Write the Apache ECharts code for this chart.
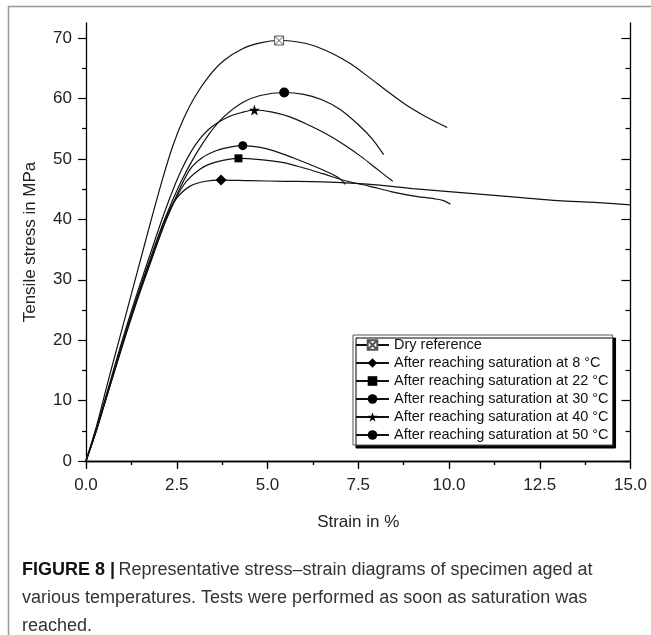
<!DOCTYPE html>
<html><head><meta charset="utf-8">
<script src="https://cdn.jsdelivr.net/npm/echarts@6/dist/echarts.min.js"></script>
<style>html,body{margin:0;padding:0;background:#fff}#c{width:651px;height:635px}</style>
</head><body><div id="c"></div>
<script>
const seriesNames = ['Dry reference', 'After reaching saturation at 8 °C', 'After reaching saturation at 22 °C',
  'After reaching saturation at 30 °C', 'After reaching saturation at 40 °C', 'After reaching saturation at 50 °C'];
const dryRef = [[0,0],[0.3,6],[0.6,13],[1.0,22],[1.4,31],[1.8,40],[2.1,46.5],[2.4,52.3],[2.7,56.8],[3.0,60.3],[3.4,63.8],[3.8,66.3],[4.3,68.2],[4.8,69.2],[5.32,69.6],[5.8,69.4],[6.3,68.7],[6.8,67.4],[7.3,65.7],[7.8,63.5],[8.3,61.2],[8.8,59],[9.3,57.2],[9.95,55.2]];
const sat8 = [[0,0],[0.3,5.3],[0.6,11.3],[1.0,19.2],[1.4,26.8],[1.8,33.8],[2.2,40.3],[2.5,43.5],[2.87,45.5],[3.3,46.3],[3.72,46.5],[4.5,46.4],[5.5,46.3],[6.5,46.2],[7.3,46],[8.0,45.7],[9.0,45.1],[10.0,44.6],[11,44.1],[12,43.6],[13,43.1],[14,42.8],[15,42.4]];
const sat22 = [[0,0],[0.3,5.3],[0.6,11.2],[1.0,19],[1.4,26.4],[1.8,33.2],[2.2,39.8],[2.68,45.6],[3.14,48.3],[3.6,49.5],[4.2,50.1],[4.8,49.9],[5.44,49.4],[6.0,48.5],[6.5,47.6],[7.2,46.3],[7.8,45.5],[8.4,44.6],[9.0,43.9],[9.6,43.4],[9.85,43.1],[10.04,42.5]];
const sat30 = [[0,0],[0.3,5.4],[0.6,11.4],[1.0,19.3],[1.4,26.7],[1.8,33.4],[2.2,39.8],[2.5,44],[2.87,48.3],[3.2,50.2],[3.6,51.4],[4.0,52],[4.32,52.2],[4.8,51.9],[5.2,51.3],[5.7,50.2],[6.2,49],[6.7,47.7],[7.0,46.7],[7.14,45.8]];
const sat40 = [[0,0],[0.3,5.6],[0.6,11.8],[1.0,20],[1.4,27.6],[1.8,34.8],[2.2,41.8],[2.6,47.8],[3.0,52.2],[3.4,55],[3.9,56.9],[4.3,57.7],[4.64,58.1],[5.1,57.8],[5.6,57],[6.1,55.7],[6.6,54.2],[7.1,52.4],[7.6,50.3],[8.0,48.4],[8.45,46.3]];
const sat50 = [[0,0],[0.3,5.5],[0.6,11.5],[1.0,19.5],[1.4,27],[1.8,34],[2.2,40.5],[2.6,46],[3.0,50.5],[3.4,54.2],[3.8,57],[4.3,59.3],[4.8,60.5],[5.46,61],[6.0,60.7],[6.5,59.8],[7.0,58.2],[7.5,55.7],[7.9,53.2],[8.2,50.7]];
const seriesData = [dryRef, sat8, sat22, sat30, sat40, sat50];
const xTicks = [0, 2.5, 5, 7.5, 10, 12.5, 15];
const yMajorTicks = [0, 10, 20, 30, 40, 50, 60, 70];
const yMinorTicks = [5, 15, 25, 35, 45, 55, 65];

const boxX = 'path://M0 0H10V10H0Z M0 0L10 10 M10 0L0 10';
const star = 'path://M50 0L61.2 34.5L97.6 34.5L68.2 55.9L79.4 90.5L50 69.1L20.6 90.5L31.8 55.9L2.4 34.5L38.8 34.5Z';
const symbols = [boxX, 'diamond', 'rect', 'circle', star, 'circle'];
const sizes = [9, 11, 8, 9, 11, 10];

const chart = echarts.init(document.getElementById('c'));
const FONT = 'Liberation Sans, Arial, sans-serif';

const series = seriesData.map((d, i) => {
  let peak = 0;
  d.forEach((p, k) => { if (p[1] > d[peak][1]) peak = k; });
  return {
    name: seriesNames[i], type: 'line', smooth: 0.3, xAxisIndex: 0, yAxisIndex: 0,
    symbol: symbols[i], symbolSize: sizes[i], showSymbol: true,
    lineStyle: { color: '#111', width: 1.2 },
    itemStyle: i === 0 ? { color: '#fff', borderColor: '#555', borderWidth: 1 } : { color: '#000' },
    emphasis: { disabled: true },
    data: d.map((p, k) => k === peak ? { value: p } : { value: p, symbol: 'none' })
  };
});

const baseX = { type: 'value', min: 0, max: 15, interval: 2.5, splitLine: { show: false },
  axisLine: { show: true, lineStyle: { color: '#000', width: 1.3 } } };
const baseY = { type: 'value', min: 0, max: 72.5, splitLine: { show: false } };

chart.setOption({
  animation: false,
  backgroundColor: '#fff',
  grid: { left: 86, right: 20.5, top: 23, bottom: 174, containLabel: false },
  xAxis: [
    Object.assign({}, baseX, { position: 'bottom',
      axisTick: { show: true, inside: false, length: 7, lineStyle: { color: '#000', width: 1.2 } },
      minorTick: { show: true, splitNumber: 2, length: 4, lineStyle: { color: '#000', width: 1.2 } },
      axisLabel: { fontSize: 17, color: '#222', fontFamily: FONT, margin: 16, formatter: v => v.toFixed(1) },
      name: 'Strain in %', nameLocation: 'middle', nameGap: 53,
      nameTextStyle: { fontSize: 17, color: '#222', fontFamily: FONT } }),
    Object.assign({}, baseX, { position: 'top',
      axisTick: { show: true, inside: true, length: 8, lineStyle: { color: '#000', width: 1.2 } },
      minorTick: { show: true, splitNumber: 2, length: 4, lineStyle: { color: '#000', width: 1.2 } },
      axisLabel: { show: false } })
  ],
  yAxis: [
    Object.assign({}, baseY, { position: 'left',
      axisLine: { show: true, lineStyle: { color: '#000', width: 1.3 } },
      axisTick: { show: true, inside: false, length: 8, customValues: yMajorTicks, lineStyle: { color: '#000', width: 1.2 } },
      axisLabel: { fontSize: 17, color: '#222', fontFamily: FONT, margin: 14, customValues: yMajorTicks },
      name: 'Tensile stress in MPa', nameLocation: 'middle', nameGap: 47, nameRotate: 90,
      nameTextStyle: { fontSize: 17, color: '#222', fontFamily: FONT } }),
    Object.assign({}, baseY, { position: 'left',
      axisLine: { show: false },
      axisTick: { show: true, inside: false, length: 4, customValues: yMinorTicks, lineStyle: { color: '#000', width: 1.2 } },
      axisLabel: { show: false } }),
    Object.assign({}, baseY, { position: 'right',
      axisLine: { show: true, lineStyle: { color: '#000', width: 1.3 } },
      axisTick: { show: true, inside: true, length: 9, customValues: yMajorTicks, lineStyle: { color: '#000', width: 1.2 } },
      axisLabel: { show: false } }),
    Object.assign({}, baseY, { position: 'right',
      axisLine: { show: false },
      axisTick: { show: true, inside: true, length: 5, customValues: yMinorTicks, lineStyle: { color: '#000', width: 1.2 } },
      axisLabel: { show: false } })
  ],
  legend: {
    orient: 'vertical', left: 353, top: 335,
    data: seriesNames,
    itemWidth: 33, itemHeight: 12, itemGap: 2,
    padding: [2, 4, 2, 2],
    backgroundColor: '#fff', borderColor: '#555', borderWidth: 1,
    shadowColor: '#000', shadowOffsetX: 3, shadowOffsetY: 3, shadowBlur: 0,
    textStyle: { fontSize: 14.5, color: '#111', fontFamily: FONT, lineHeight: 16 },
    selectedMode: false
  },
  graphic: [
    { type: 'line', shape: { x1: 8, y1: 6.5, x2: 651, y2: 6.5 }, style: { stroke: '#999', lineWidth: 1.5 } },
    { type: 'line', shape: { x1: 8.5, y1: 6, x2: 8.5, y2: 635 }, style: { stroke: '#999', lineWidth: 1.5 } },
    { type: 'text', left: 22, top: 561, style: {
      text: '{b|FIGURE 8 |} {r|Representative stress–strain diagrams of specimen aged at}',
      rich: { b: { fontWeight: 'bold', fontSize: 18, fill: '#111', fontFamily: FONT },
              r: { fontSize: 18, fill: '#333', fontFamily: FONT } } } },
    { type: 'text', left: 22, top: 589, style: { text: 'various temperatures. Tests were performed as soon as saturation was',
      fontSize: 18, fill: '#333', fontFamily: FONT } },
    { type: 'text', left: 22, top: 617, style: { text: 'reached.', fontSize: 18, fill: '#333', fontFamily: FONT } }
  ],
  series: series
});
</script></body></html>
